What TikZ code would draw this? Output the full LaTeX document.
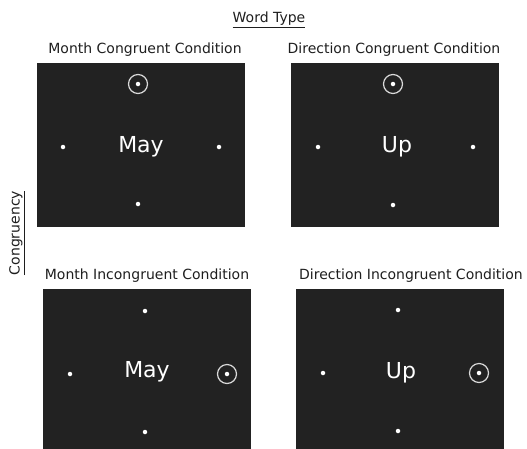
\documentclass[tikz,border=0pt]{standalone}
\usepackage{fontspec}
\setmainfont{DejaVu Sans}
\usetikzlibrary{positioning,calc}
\definecolor{screen}{HTML}{222222}
\definecolor{ink}{HTML}{1E1E1E}

\begin{document}
\begin{tikzpicture}[
  x=1pt, y=-1pt,
  font=\fontsize{14}{17}\selectfont,
  panel/.style={fill=screen, minimum width=208pt, minimum height=164pt, inner sep=0pt},
  cond/.style={text=ink, inner sep=1pt},
  word/.style={text=white, font=\fontsize{22}{26}\selectfont, inner sep=0pt},
  dot/.style={circle, fill=white, minimum size=4.5pt, inner sep=0pt},
  ring/.style={circle, draw=white!85!black, line width=1.2pt, minimum size=19pt, inner sep=0pt}
]
  \useasboundingbox (0,0) rectangle (527,448);
  \clip (0,0) rectangle (527,448);

  % Axis labels
  \node[cond] (wt) at (269,20) {\underline{Word Type}};
  \node[cond, rotate=90] (cg) at (17,233) {\underline{Congruency}};

  % Top row: congruent screens
  \node[panel] (mc) at (141,145) {};
  \node[panel] (dc) at (395,145) {};
  \node[cond, above=5pt of mc, xshift=4pt] (mc-t) {Month Congruent Condition};
  \node[cond, above=5pt of dc, xshift=-1pt] (dc-t) {Direction Congruent Condition};

  % Month congruent: cue on top
  \node[word] (mc-w) at ($(mc)+(0,2)$) {May};
  \node[ring] (mc-r) at ($(mc)+(-3,-61)$) {};
  \node[dot] (mc-up) at (mc-r) {};
  \node[dot] (mc-dn) at ($(mc)+(-3,59)$) {};
  \node[dot] (mc-lt) at ($(mc)+(-78,2)$) {};
  \node[dot] (mc-rt) at ($(mc)+(78,2)$) {};

  % Direction congruent: cue on top
  \node[word] (dc-w) at ($(dc)+(2,2)$) {Up};
  \node[ring] (dc-r) at ($(dc)+(-2,-61)$) {};
  \node[dot] (dc-up) at (dc-r) {};
  \node[dot] (dc-dn) at ($(dc)+(-2,60)$) {};
  \node[dot] (dc-lt) at ($(dc)+(-77,2)$) {};
  \node[dot] (dc-rt) at ($(dc)+(78,2)$) {};

  % Bottom row: incongruent screens
  \node[panel] (mi) at (147,371) {};
  \node[panel] (di) at (400,371) {};
  \node[cond, above=5pt of mi] (mi-t) {Month Incongruent Condition};
  \node[cond, above=5pt of di, xshift=11pt] (di-t) {Direction Incongruent Condition};

  % Month incongruent: cue on right
  \node[word] (mi-w) at ($(mi)+(0,1)$) {May};
  \node[dot] (mi-up) at ($(mi)+(-2,-60)$) {};
  \node[dot] (mi-dn) at ($(mi)+(-2,61)$) {};
  \node[dot] (mi-lt) at ($(mi)+(-77,3)$) {};
  \node[ring] (mi-r) at ($(mi)+(80,3)$) {};
  \node[dot] (mi-rt) at (mi-r) {};

  % Direction incongruent: cue on right
  \node[word] (di-w) at ($(di)+(1,2)$) {Up};
  \node[dot] (di-up) at ($(di)+(-2,-61)$) {};
  \node[dot] (di-dn) at ($(di)+(-2,60)$) {};
  \node[dot] (di-lt) at ($(di)+(-77,2)$) {};
  \node[ring] (di-r) at ($(di)+(79,2)$) {};
  \node[dot] (di-rt) at (di-r) {};
\end{tikzpicture}
\end{document}
